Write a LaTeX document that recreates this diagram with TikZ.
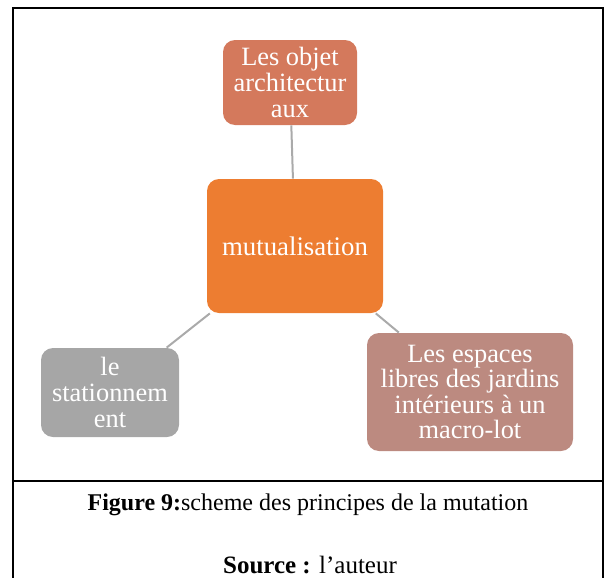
\documentclass[tikz,border=0pt]{standalone}
\usepackage{fontspec}
\setmainfont{Liberation Serif}
\definecolor{objetcolor}{RGB}{212,121,92}
\definecolor{mutualcolor}{RGB}{237,125,49}
\definecolor{stationcolor}{RGB}{166,166,166}
\definecolor{jardincolor}{RGB}{188,138,128}
\definecolor{linkgray}{RGB}{170,170,170}
\begin{document}
\begin{tikzpicture}[x=0.5pt,y=-0.5pt,
    box/.style={rounded corners=6pt,text=white,align=center,inner sep=0pt,
      font=\fontsize{13.2}{12.8}\selectfont},
    link/.style={draw=linkgray,line width=1pt}]
  \useasboundingbox (0,0) rectangle (605,578);
  % cadre et legende
  \draw[line width=0.7pt] (13,578) -- (13,8) -- (603,8) -- (603,578);
  \draw[line width=0.7pt] (13,481) -- (603,481);
  \node[font=\fontsize{12}{13}\selectfont] (legende) at (308,505) {\textbf{Figure 9:}scheme des principes de la mutation};
  \node[font=\fontsize{12.5}{13}\selectfont] (source) at (310,565) {\textbf{Source :} l’auteur};
  % schema
  \node[box,fill=mutualcolor,minimum width=88pt,minimum height=67pt,
    font=\fontsize{13.4}{14}\selectfont] (mutual) at (295,246) {mutualisation};
  \node[box,fill=objetcolor,minimum width=67pt,minimum height=42.5pt] (objet) at (290,82.5) {Les objet\\architectur\\aux};
  \node[box,fill=stationcolor,minimum width=69pt,minimum height=44.5pt] (station) at (110,392.5) {le\\stationnem\\ent};
  \node[box,fill=jardincolor,minimum width=103pt,minimum height=59pt] (jardin) at (470,392) {Les espaces\\libres des jardins\\intérieurs à un\\macro-lot};
  \draw[link] (mutual) -- (objet);
  \draw[link] (mutual) -- (station);
  \draw[link] (mutual) -- (jardin);
\end{tikzpicture}
\end{document}
